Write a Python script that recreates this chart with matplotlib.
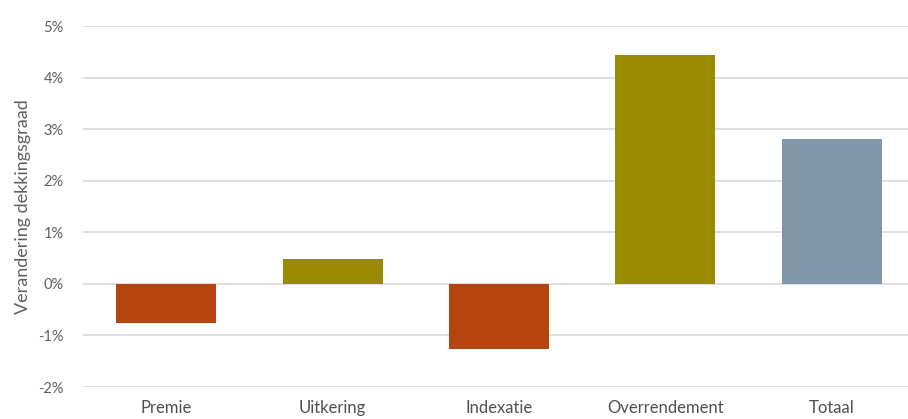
import matplotlib.pyplot as plt
from matplotlib.ticker import FuncFormatter

categories = ['Premie', 'Uitkering', 'Indexatie', 'Overrendement', 'Totaal']
values = [-0.76, 0.49, -1.27, 4.44, 2.80]
colors = ['#B5440F', '#9A8C00', '#B5440F', '#9A8C00', '#8096AA']
y_ticks = [-2, -1, 0, 1, 2, 3, 4, 5]

plt.rcParams['font.family'] = ['Lato', 'DejaVu Sans']

fig = plt.figure(figsize=(9.08, 4.19), dpi=100)
ax = fig.add_axes([83 / 908, 1 - 387 / 419, 832 / 908, 361 / 419])

x = range(len(categories))
ax.bar(x, values, width=0.6, color=colors, zorder=3)

ax.set_xlim(-0.5, len(categories) - 0.5)
ax.set_ylim(-2, 5)
ax.set_yticks(y_ticks)
ax.yaxis.set_major_formatter(FuncFormatter(lambda v, p: f'{v:.0f}%'))
ax.grid(axis='y', color='#D9D9D9', linewidth=1.2, zorder=0)
for s in ax.spines.values():
    s.set_visible(False)
ax.tick_params(length=0)
ax.tick_params(axis='y', labelsize=10.5, labelcolor='#606060', pad=14)
ax.set_xticks(list(x))
ax.set_xticklabels(categories, fontsize=12, color='#505050')
ax.tick_params(axis='x', pad=9)
ax.set_ylabel('Verandering dekkingsgraad', fontsize=13, color='#606060', labelpad=5)

fig.savefig('out.png', dpi=100)
